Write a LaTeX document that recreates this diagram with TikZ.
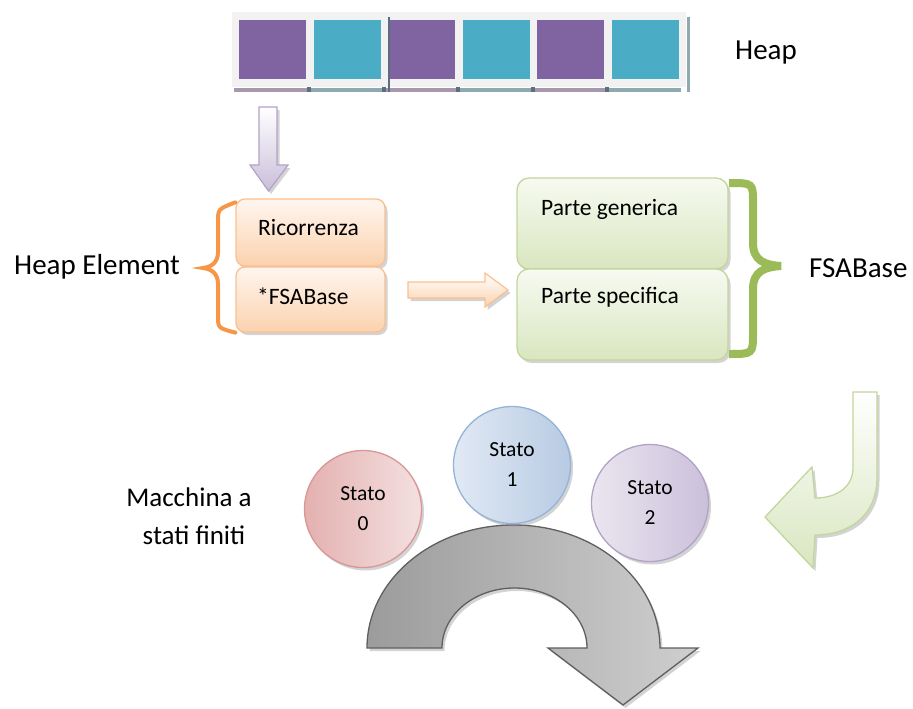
\documentclass[tikz,border=0pt]{standalone}
\usepackage{fontspec}
\setmainfont{Carlito}
\usetikzlibrary{shadows,calc}

\definecolor{cellpurple}{HTML}{8064A2}
\definecolor{cellteal}{HTML}{4BACC6}
\definecolor{barbg}{HTML}{F2F2F2}
\definecolor{shpurple}{HTML}{A898AE}
\definecolor{shteal}{HTML}{8FA9B1}
\definecolor{shdark}{HTML}{5C6E80}
\definecolor{orline}{HTML}{FAC090}
\definecolor{ortop}{HTML}{FFF6EF}
\definecolor{orbot}{HTML}{FBD2AE}
\definecolor{orbrace}{HTML}{F79646}
\definecolor{grline}{HTML}{C3D69B}
\definecolor{grtop}{HTML}{F7FAF1}
\definecolor{grbot}{HTML}{D9E6C0}
\definecolor{grbrace}{HTML}{9BBB59}
\definecolor{puline}{HTML}{B3A2C7}
\definecolor{pubot}{HTML}{C9BEDA}
\definecolor{redline}{HTML}{D99694}
\definecolor{reddark}{HTML}{E3B1B0}
\definecolor{redlight}{HTML}{F4E0E0}
\definecolor{blueline}{HTML}{95B3D7}
\definecolor{bluedark}{HTML}{B7CBE3}
\definecolor{bluelight}{HTML}{E1E9F4}
\definecolor{violine}{HTML}{B3A2C7}
\definecolor{viodark}{HTML}{CBC0DA}
\definecolor{violight}{HTML}{EAE6F0}
\definecolor{arcline}{HTML}{5F5F5F}

\tikzset{
  softshadow/.style={drop shadow={opacity=0.35, shadow xshift=2.5pt, shadow yshift=-3pt}},
  cell/.style={rectangle, draw=none, inner sep=0pt, minimum width=67, minimum height=59},
  obox/.style={rectangle, rounded corners=9, draw=orline, line width=1.3pt,
    top color=ortop, bottom color=orbot, softshadow, inner sep=0pt},
  gbox/.style={rectangle, rounded corners=12, draw=grline, line width=1.3pt,
    top color=grtop, bottom color=grbot, softshadow, inner sep=0pt},
  boxtxt/.style={inner sep=0pt, anchor=west, font=\fontsize{23.5}{28}\selectfont},
  biglbl/.style={inner sep=0pt, font=\fontsize{29}{34}\selectfont},
  statefont/.style={font=\fontsize{21.5}{30}\selectfont, align=center, inner sep=0pt},
  statecirc/.style={circle, minimum size=117, line width=1.3pt, softshadow, statefont},
}

\begin{document}
\begin{tikzpicture}[x=1pt, y=-1pt]
\useasboundingbox (0,0) rectangle (913,709);

% ---- heap bar with its six cells ----
\node[rectangle, fill=barbg, draw=none, inner sep=0pt, minimum width=454, minimum height=75]
  (heap) at (459,49.5) {};
\foreach \i/\c/\s in {0/cellpurple/shpurple,1/cellteal/shteal,2/cellpurple/shpurple,
                       3/cellteal/shteal,4/cellpurple/shpurple,5/cellteal/shteal}{
  \node[cell, fill=\c] (c\i) at (272.5+74.5*\i,49.5) {};
  \fill[\s] (234+74.5*\i,87.5) rectangle (234+74.5*\i+74.5,92);
}
\foreach \i in {1,...,5}{
  \fill[shdark] (232.5+74.5*\i,86.5) rectangle (236.5+74.5*\i,92);
}
\fill[shdark] (387.5,17) rectangle (389.5,92);
\fill[shteal] (686.5,17) rectangle (689.5,92);
\node[biglbl, anchor=west] (heaplbl) at (735,53) {Heap};

% ---- down arrow from the heap to the element ----
\draw[draw=puline, line width=1.2pt, top color=white, bottom color=pubot, softshadow]
  (259,107) -- (277,107) -- (277,165) -- (288,165) -- (268.5,191) -- (250,165) -- (259,165) -- cycle;

% ---- heap element ----
\node[obox, minimum width=149, minimum height=67] (ric) at (310.5,232.5) {};
\node[obox, minimum width=149, minimum height=65] (fsa) at (310.5,299.5) {};
\node[boxtxt] (ricT) at (258,228) {Ricorrenza};
\node[boxtxt] (fsaT) at (257,296) {*FSABase};
\draw[orbrace, line width=4pt, line cap=round]
  (ric.north west) ++(0,4) coordinate (ob1)
  (ob1) .. controls (218,209) .. (218,222) -- (218,252)
  .. controls (218,263) and (211,267) .. (203,268)
  .. controls (211,269) and (218,273) .. (218,284) -- (218,316)
  .. controls (218,328) .. (fsa.south west);
\node[biglbl, anchor=west] (helbl) at (14,267) {Heap Element};

% ---- arrow to the FSA base ----
\draw[draw=orline, line width=1.2pt, top color=white, bottom color=orbot, softshadow]
  (408,282) -- (485,282) -- (485,273) -- (508,290) -- (485,307) -- (485,298) -- (408,298) -- cycle;

% ---- FSA base ----
\node[gbox, minimum width=211, minimum height=91] (gen) at (622.5,223.5) {};
\node[gbox, minimum width=211, minimum height=91] (spec) at (622.5,314.5) {};
\node[boxtxt] (genT) at (541,209) {Parte generica};
\node[boxtxt] (specT) at (541,297) {Parte specifica};
\draw[grbrace, line width=8pt]
  (729,183) .. controls (753,183) .. (753,203) -- (753,243)
  .. controls (753,261) and (765,265) .. (781,266)
  .. controls (765,267) and (753,271) .. (753,289) -- (753,333)
  .. controls (753,354) .. (729,354);
\node[biglbl, anchor=west] (fsalbl) at (809,268) {FSABase};

% ---- hook arrow down to the state machine ----
\draw[draw=grline, line width=1.3pt, top color=white, bottom color=grbot, softshadow]
  (853,392) -- (877,392) -- (877,478)
  .. controls (877,515) and (850,535) .. (815,535)
  -- (813,568) -- (765,517) -- (812,467) -- (815,498)
  .. controls (838,498) and (853,486) .. (853,468) -- cycle;

% ---- finite state machine ----
\draw[draw=arcline, line width=1.3pt, left color=gray!78, right color=gray!38, softshadow]
  (367,648) arc[start angle=180, end angle=360, x radius=146.5, y radius=123]
  -- (698,648) -- (623,705) -- (548,648) -- (587,648)
  arc[start angle=0, end angle=-180, x radius=72.5, y radius=60] -- cycle;

\node[statecirc, draw=redline, left color=reddark, right color=redlight] (s0) at (363,509) {Stato\\0};
\node[statecirc, draw=blueline, left color=bluelight, right color=bluedark] (s1) at (512,465) {Stato\\1};
\node[statecirc, draw=violine, left color=violight, right color=viodark] (s2) at (650,503) {Stato\\2};

\node[inner sep=0pt, align=center, font=\fontsize{27}{38}\selectfont] (fsm) at (189,516)
  {Macchina a\\\hspace*{10pt}stati finiti};
\end{tikzpicture}
\end{document}
